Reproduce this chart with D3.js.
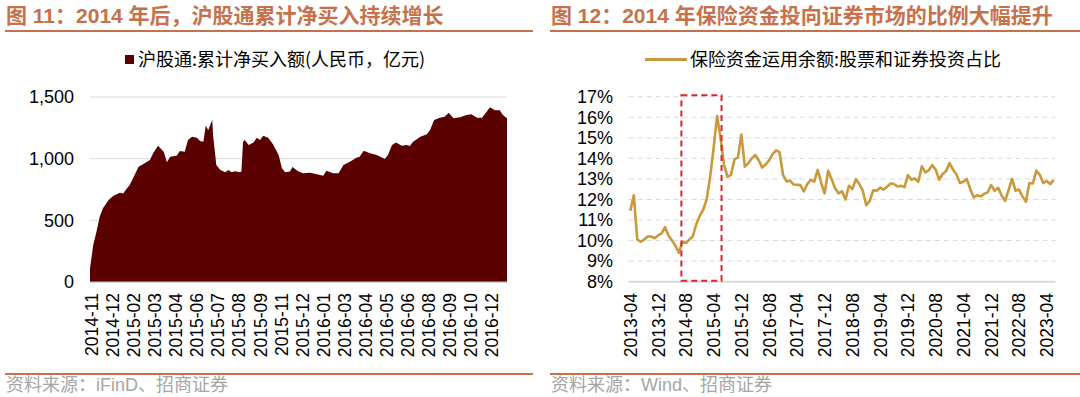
<!DOCTYPE html>
<html>
<head>
<meta charset="utf-8">
<script src="https://cdn.jsdelivr.net/npm/d3@7"></script>
<style>
    body { margin: 0; background: #fff; }
    svg { display: block; }
</style>
</head>
<body>
<div id="chart"></div>
<script>
// left panel: 沪股通累计净买入额 (trading-day index -> 亿元)
const shDayIdx = [0, 4, 8, 12, 16, 23, 29, 37, 41, 45, 49, 53, 60, 66, 74, 78, 84, 91, 95, 99,
    107, 111, 117, 121, 126, 132, 136, 140, 143, 146, 151, 152, 156, 161, 167, 171, 175, 179, 185, 187,
    189, 191, 196, 202, 206, 210, 214, 220, 226, 233, 237, 241, 247, 250, 257, 263, 272, 280, 288, 292,
    300, 307, 313, 321, 329, 333, 338, 346, 354, 364, 368, 373, 378, 385, 391, 395, 399, 408, 416, 420,
    425, 432, 438, 443, 449, 457, 465, 471, 478, 484, 488, 494, 500, 506, 510, 515];
const shNetBuy = [110, 300, 408, 530, 597, 665, 700, 724, 718, 754, 786, 840, 935, 957, 989, 1043, 1105, 1057, 970, 1016,
    1024, 1062, 1057, 1151, 1178, 1170, 1143, 1138, 1268, 1230, 1316, 1192, 949, 908, 889, 908, 889, 897, 889, 895,
    1138, 1151, 1111, 1132, 1170, 1151, 1186, 1170, 1116, 1030, 922, 889, 895, 932, 897, 881, 886, 873, 862, 903,
    881, 881, 949, 976, 1008, 1016, 1065, 1043, 1030, 997, 1030, 1111, 1132, 1105, 1111, 1102, 1138, 1178, 1197, 1232,
    1313, 1332, 1340, 1373, 1327, 1335, 1354, 1360, 1332, 1332, 1365, 1416, 1392, 1392, 1354, 1327];
const shTickLabels = ["2014-11", "2014-12", "2015-02", "2015-03", "2015-04", "2015-06", "2015-07", "2015-08",
    "2015-09", "2015-11", "2015-12", "2016-01", "2016-03", "2016-04", "2016-05", "2016-06", "2016-08",
    "2016-09", "2016-10", "2016-12"];
const shYTicks = [0, 500, 1000, 1500];

// right panel: 保险资金运用余额 股票和证券投资占比 (%), monthly 2013-04 .. 2023-06
const insShare = [11.45, 12.2, 10.05, 9.95, 10.05, 10.2, 10.2, 10.12, 10.25, 10.35,
    10.65, 10.25, 10.0, 9.75, 9.4, 9.95, 9.88, 10.05, 10.2, 10.8,
    11.2, 11.5, 12.0, 13.1, 14.5, 16.06, 15.0, 13.7, 13.1, 13.2,
    13.95, 14.05, 15.16, 13.6, 13.76, 14.0, 14.16, 13.9, 13.55, 13.7,
    13.9, 14.2, 14.39, 14.3, 13.2, 12.88, 12.92, 12.73, 12.72, 12.7,
    12.39, 12.75, 12.95, 12.87, 13.44, 12.8, 12.3, 13.4, 13.0, 12.55,
    12.3, 12.4, 12.0, 12.67, 12.5, 12.99, 12.75, 12.42, 11.72, 11.93,
    12.45, 12.43, 12.57, 12.48, 12.62, 12.78, 12.75, 12.63, 12.67, 12.6,
    13.19, 12.96, 13.02, 12.86, 13.61, 13.32, 13.42, 13.67, 13.45, 12.96,
    13.24, 13.38, 13.77, 13.45, 13.22, 12.8, 12.86, 12.99, 12.48, 12.1,
    12.21, 12.15, 12.27, 12.35, 12.7, 12.42, 12.57, 12.2, 11.93, 12.45,
    13.0, 12.43, 12.48, 12.15, 11.89, 12.8, 12.78, 13.4, 13.2, 12.8,
    12.9, 12.75, 12.95];
const insTickLabels = ["2013-04", "2013-12", "2014-08", "2015-04", "2015-12", "2016-08", "2017-04", "2017-12",
    "2018-08", "2019-04", "2019-12", "2020-08", "2021-04", "2021-12", "2022-08", "2023-04"];
const insYTicks = [8, 9, 10, 11, 12, 13, 14, 15, 16, 17];
const highlightMonths = ["2014-07", "2015-06"];

const LATIN = "'Liberation Sans', Arial, 'Noto Sans CJK SC', sans-serif";
const CJK = "'Noto Sans CJK SC', 'Liberation Sans', sans-serif";
const ACCENT = "#C6714B";

class TwoPanels {
    constructor(element) {
        this.ele = d3.select(element);
        this.svg = this.ele.append("svg")
            .attr("width", 1080)
            .attr("height", 397);
        this.drawFrame(6, 533, "图 11：2014 年后，沪股通累计净买入持续增长", "资料来源：iFinD、招商证券");
        this.drawFrame(551, 1080, "图 12：2014 年保险资金投向证券市场的比例大幅提升", "资料来源：Wind、招商证券");
        this.drawLeft();
        this.drawRight();
    }

    drawFrame(x0, x1, title, source) {
        let g = this.svg.append("g");
        g.append("text")
            .attr("x", x0)
            .attr("y", 23)
            .style("font-family", LATIN)
            .style("font-weight", "bold")
            .style("font-size", "21px")
            .attr("fill", ACCENT)
            .text(title);
        g.append("line")
            .attr("x1", x0 - 1).attr("x2", x1)
            .attr("y1", 31).attr("y2", 31)
            .attr("stroke", ACCENT)
            .attr("stroke-width", 2);
        g.append("line")
            .attr("x1", x0 - 1).attr("x2", x1)
            .attr("y1", 374).attr("y2", 374)
            .attr("stroke", ACCENT)
            .attr("stroke-width", 2);
        g.append("text")
            .attr("x", x0)
            .attr("y", 391)
            .style("font-family", LATIN)
            .style("font-size", "18px")
            .attr("fill", "#a6a6a6")
            .text(source);
    }

    drawLeft() {
        let x = d3.scaleLinear().domain([0, 515]).range([90, 507]);
        let y = d3.scaleLinear().domain([0, 1500]).range([282, 97]);
        let g = this.svg.append("g");

        g.append("g")
            .selectAll("line")
            .data(shYTicks)
            .enter()
            .append("line")
            .attr("x1", 90).attr("x2", 507)
            .attr("y1", d => y(d)).attr("y2", d => y(d))
            .attr("stroke", "#d9d9d9")
            .attr("stroke-width", 1);

        let pts = shDayIdx.map((d, i) => [d, shNetBuy[i]]);
        let area = d3.area()
            .x(d => x(d[0]))
            .y0(y(0))
            .y1(d => y(d[1]));
        g.append("path")
            .attr("d", area(pts))
            .attr("fill", "#5b0000");

        g.append("line")
            .attr("x1", 90).attr("x2", 507)
            .attr("y1", y(0)).attr("y2", y(0))
            .attr("stroke", "#bfbfbf");

        g.append("g")
            .selectAll("text")
            .data(shYTicks)
            .enter()
            .append("text")
            .attr("x", 74)
            .attr("y", d => y(d))
            .attr("dy", "0.35em")
            .attr("text-anchor", "end")
            .style("font-family", LATIN)
            .style("font-size", "18px")
            .attr("fill", "#000")
            .text(d => d3.format(",")(d));

        g.append("g")
            .selectAll("text")
            .data(shTickLabels)
            .enter()
            .append("text")
            .attr("transform", (d, i) => "translate(" + (x(2 + i * 26) + 6.5) + ",293) rotate(-90)")
            .attr("text-anchor", "end")
            .style("font-family", LATIN)
            .style("font-size", "17.5px")
            .attr("fill", "#000")
            .text(d => d);

        // legend
        g.append("rect")
            .attr("x", 125).attr("y", 55)
            .attr("width", 9).attr("height", 9)
            .attr("fill", "#5b0000");
        g.append("text")
            .attr("x", 138)
            .attr("y", 66)
            .style("font-family", CJK)
            .style("font-size", "18px")
            .attr("fill", "#000")
            .text("沪股通:累计净买入额(人民币，亿元)");
    }

    drawRight() {
        let fmt = d3.timeFormat("%Y-%m");
        let months = d3.timeMonth.range(new Date(2013, 3, 1), new Date(2023, 6, 1)).map(fmt);
        let x = d3.scalePoint().domain(months).range([628.6, 1055.4]).padding(0.5);
        let y = d3.scaleLinear().domain([8, 17]).range([281.7, 96.7]);
        let g = this.svg.append("g");

        g.append("g")
            .selectAll("line")
            .data(insYTicks.filter(d => d > 8))
            .enter()
            .append("line")
            .attr("x1", 628.6).attr("x2", 1055.4)
            .attr("y1", d => y(d)).attr("y2", d => y(d))
            .attr("stroke", "#d9d9d9")
            .attr("stroke-dasharray", "5,4")
            .attr("stroke-width", 1);

        g.append("line")
            .attr("x1", 628.6).attr("x2", 1055.4)
            .attr("y1", y(8)).attr("y2", y(8))
            .attr("stroke", "#d9d9d9")
            .attr("stroke-width", 2);

        g.append("g")
            .selectAll("text")
            .data(insYTicks)
            .enter()
            .append("text")
            .attr("x", 613)
            .attr("y", d => y(d))
            .attr("dy", "0.35em")
            .attr("text-anchor", "end")
            .style("font-family", LATIN)
            .style("font-size", "18px")
            .attr("fill", "#000")
            .text(d => d + "%");

        g.append("g")
            .selectAll("text")
            .data(insTickLabels)
            .enter()
            .append("text")
            .attr("transform", d => "translate(" + (x(d) + 6.5) + ",293) rotate(-90)")
            .attr("text-anchor", "end")
            .style("font-family", LATIN)
            .style("font-size", "17.5px")
            .attr("fill", "#000")
            .text(d => d);

        let line = d3.line()
            .x((d, i) => x(months[i]))
            .y(d => y(d));
        g.append("path")
            .attr("d", line(insShare))
            .attr("fill", "none")
            .attr("stroke", "#c9993b")
            .attr("stroke-width", 2.6)
            .attr("stroke-linejoin", "round");

        // dashed highlight box
        let bx0 = x(highlightMonths[0]) - 1;
        let bx1 = x(highlightMonths[1]) + 1;
        g.append("rect")
            .attr("x", bx0)
            .attr("y", y(17) - 1.5)
            .attr("width", bx1 - bx0)
            .attr("height", y(8) - y(17) + 0.5)
            .attr("fill", "none")
            .attr("stroke", "#d9262b")
            .attr("stroke-width", 2)
            .attr("stroke-dasharray", "6,4");

        // legend
        g.append("line")
            .attr("x1", 645).attr("x2", 687)
            .attr("y1", 59.5).attr("y2", 59.5)
            .attr("stroke", "#c9993b")
            .attr("stroke-width", 3);
        g.append("text")
            .attr("x", 690)
            .attr("y", 66)
            .style("font-family", CJK)
            .style("font-size", "18px")
            .attr("fill", "#000")
            .text("保险资金运用余额:股票和证券投资占比");
    }
}

new TwoPanels("#chart");
</script>
</body>
</html>
